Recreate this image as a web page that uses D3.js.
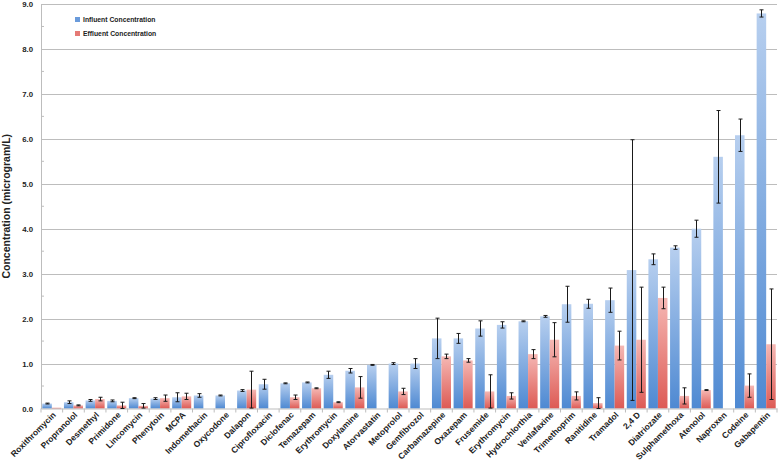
<!DOCTYPE html>
<html><head><meta charset="utf-8">
<script src="https://cdn.jsdelivr.net/npm/d3@7"></script>
<style>body{margin:0;background:#fff;} svg{display:block;}</style>
</head><body>
<svg id="c" width="778" height="462"></svg>
<script>
const categories = ["Roxithromycin","Propranolol","Desmethyl","Primidone","Lincomycin","Phenytoin","MCPA","Indomethacin","Oxycodone","Dalapon","Ciprofloxacin","Diclofenac","Temazepam","Erythromycin","Doxylamine","Atorvastatin","Metoprolol","Gemfibrozol","Carbamazepine","Oxazepam","Frusemide","Erythromycin","Hydrochlorthia","Venlafaxine","Trimethoprim","Ranitidine","Tramadol","2,4 D","Diatriozate","Sulphamethoxa","Atenolol","Naproxen","Codeine","Gabapentin"];
const influent = [0.11,0.14,0.18,0.17,0.23,0.22,0.25,0.29,0.29,0.40,0.54,0.56,0.58,0.75,0.84,0.97,1.00,1.00,1.56,1.56,1.78,1.86,1.94,2.05,2.32,2.33,2.41,3.08,3.32,3.58,4.00,5.60,6.08,8.79];
const influentErr = [0.01,0.03,0.02,0.02,0.01,0.02,0.10,0.04,0.01,0.02,0.11,0.01,0.01,0.08,0.05,0.01,0.02,0.11,0.45,0.11,0.17,0.07,0.01,0.02,0.40,0.10,0.27,2.90,0.12,0.04,0.19,1.03,0.36,0.08];
const effluent = [0.02,0.07,0.21,0.07,0.06,0.23,0.27,0,0,0.42,0,0.25,0.45,0.14,0.47,0,0.38,0,1.16,1.07,0.38,0.28,1.21,1.53,0.28,0.12,1.40,1.53,2.46,0.28,0.41,0,0.51,1.43];
const effluentErr = [0,0.01,0.04,0.07,0.05,0.07,0.07,0,0,0.41,0,0.05,0.01,0.01,0.24,0,0.07,0,0.05,0.04,0.37,0.07,0.10,0.38,0.09,0.12,0.32,1.17,0.24,0.18,0.01,0,0.26,1.23];
const seriesNames = ["Influent Concentration","Effluent Concentration"];
const yTicks = [0,1,2,3,4,5,6,7,8,9];

const FONT = "Liberation Sans, Arial, sans-serif";
const svg = d3.select("#c");
const m = {l:41, r:1, t:4, b:53};
const W = 778, H = 462;
const x = d3.scaleBand().domain(d3.range(categories.length)).range([m.l, W - m.r]).paddingInner(0.12).paddingOuter(0.06);
const x1 = d3.scaleBand().domain([0,1]).range([0, x.bandwidth()]);
const y = d3.scaleLinear().domain([0,9]).range([H - m.b - 0.5, m.t]);

const defs = svg.append("defs");
const gb = defs.append("linearGradient").attr("id","gBlue").attr("x1",0).attr("y1",0).attr("x2",0).attr("y2",1);
gb.append("stop").attr("offset","0").attr("stop-color","#b7cfef");
gb.append("stop").attr("offset","1").attr("stop-color","#4e89d2");
const gr = defs.append("linearGradient").attr("id","gRed").attr("x1",0).attr("y1",0).attr("x2",0).attr("y2",1);
gr.append("stop").attr("offset","0").attr("stop-color","#f5b8b4");
gr.append("stop").attr("offset","1").attr("stop-color","#dd5a54");

// gridlines
svg.append("g").selectAll("line").data(yTicks.filter(d=>d>0)).join("line")
  .attr("x1", m.l).attr("x2", W - m.r)
  .attr("y1", d=>Math.round(y(d))+0.5).attr("y2", d=>Math.round(y(d))+0.5)
  .attr("stroke","#bdbdbd").attr("stroke-width",1.2);

// y axis
const yAxis = svg.append("g").attr("transform",`translate(${m.l},0)`)
  .call(d3.axisLeft(y).tickValues(yTicks).tickFormat(d3.format(".1f")).tickSize(0).tickPadding(8));
yAxis.select(".domain").attr("stroke","#bdbdbd");
yAxis.selectAll("text").attr("font-family",FONT).attr("font-weight","bold").attr("font-size",7.8).attr("fill","#222");
svg.append("g").selectAll("line").data(d3.range(0.5,9,1)).join("line")
  .attr("x1", m.l).attr("x2", m.l+3).attr("y1", d=>y(d)).attr("y2", d=>y(d)).attr("stroke","#bdbdbd");

// bars
const series = [{v:influent,e:influentErr,fill:"url(#gBlue)"},{v:effluent,e:effluentErr,fill:"url(#gRed)"}];
series.forEach((s,si)=>{
  const g = svg.append("g");
  g.selectAll("rect").data(categories.map((c,i)=>i).filter(i=>s.v[i]>0)).join("rect")
    .attr("x", i=>x(i)+x1(si)).attr("width", x1.bandwidth())
    .attr("y", i=>y(s.v[i])).attr("height", i=>y(0)-y(s.v[i]))
    .attr("fill", s.fill);
});

// x axis baseline
const xAxis = svg.append("g").attr("transform",`translate(0,${y(0)})`)
  .call(d3.axisBottom(x).tickSize(0).tickFormat(i=>categories[i]));
xAxis.select(".domain").attr("stroke","#bdbdbd");
xAxis.selectAll("text").attr("font-family",FONT).attr("font-weight","bold").attr("font-size",8.5).attr("fill","#222")
  .attr("text-anchor","end").attr("dy",0).attr("y",0)
  .attr("transform", `translate(4.5,7) rotate(-45)`);
svg.append("g").selectAll("line").data(d3.range(categories.length+1)).join("line")
  .attr("x1", i=>m.l + i*(W-m.r-m.l)/categories.length).attr("x2", i=>m.l + i*(W-m.r-m.l)/categories.length)
  .attr("y1", y(0)).attr("y2", y(0)+4).attr("stroke","#bdbdbd");

// error bars
series.forEach((s,si)=>{
  const g = svg.append("g").attr("stroke","#1a1a1a").attr("stroke-width",1);
  const idx = categories.map((c,i)=>i).filter(i=>s.e[i]>0);
  const cx = i=>Math.round(x(i)+x1(si)+x1.bandwidth()/2)+0.5;
  g.selectAll("line.v").data(idx).join("line").attr("class","v")
    .attr("x1",cx).attr("x2",cx).attr("y1",i=>y(s.v[i]+s.e[i])).attr("y2",i=>y(Math.max(0,s.v[i]-s.e[i])));
  g.selectAll("line.t").data(idx).join("line").attr("class","t")
    .attr("x1",i=>cx(i)-2).attr("x2",i=>cx(i)+2).attr("y1",i=>y(s.v[i]+s.e[i])).attr("y2",i=>y(s.v[i]+s.e[i]));
  g.selectAll("line.b").data(idx).join("line").attr("class","b")
    .attr("x1",i=>cx(i)-2).attr("x2",i=>cx(i)+2).attr("y1",i=>y(Math.max(0,s.v[i]-s.e[i]))).attr("y2",i=>y(Math.max(0,s.v[i]-s.e[i])));
});

// y title
svg.append("text").attr("transform",`translate(10,${(y(0)+y(9))/2}) rotate(-90)`)
  .attr("text-anchor","middle").attr("font-family",FONT)
  .attr("font-weight","bold").attr("font-size",10.5).attr("fill","#222").text("Concentration (microgram/L)");

// legend
const lg = svg.append("g").attr("transform","translate(75,20)");
seriesNames.forEach((n,i)=>{
  lg.append("rect").attr("x",0).attr("y",i*14-3).attr("width",5).attr("height",5).attr("fill", i===0?"#6a9bdb":"#e57a75");
  lg.append("text").attr("x",8).attr("y",i*14+2).attr("font-family",FONT)
    .attr("font-weight","bold").attr("font-size",6.8).attr("fill","#222").text(n);
});
</script>
</body></html>
